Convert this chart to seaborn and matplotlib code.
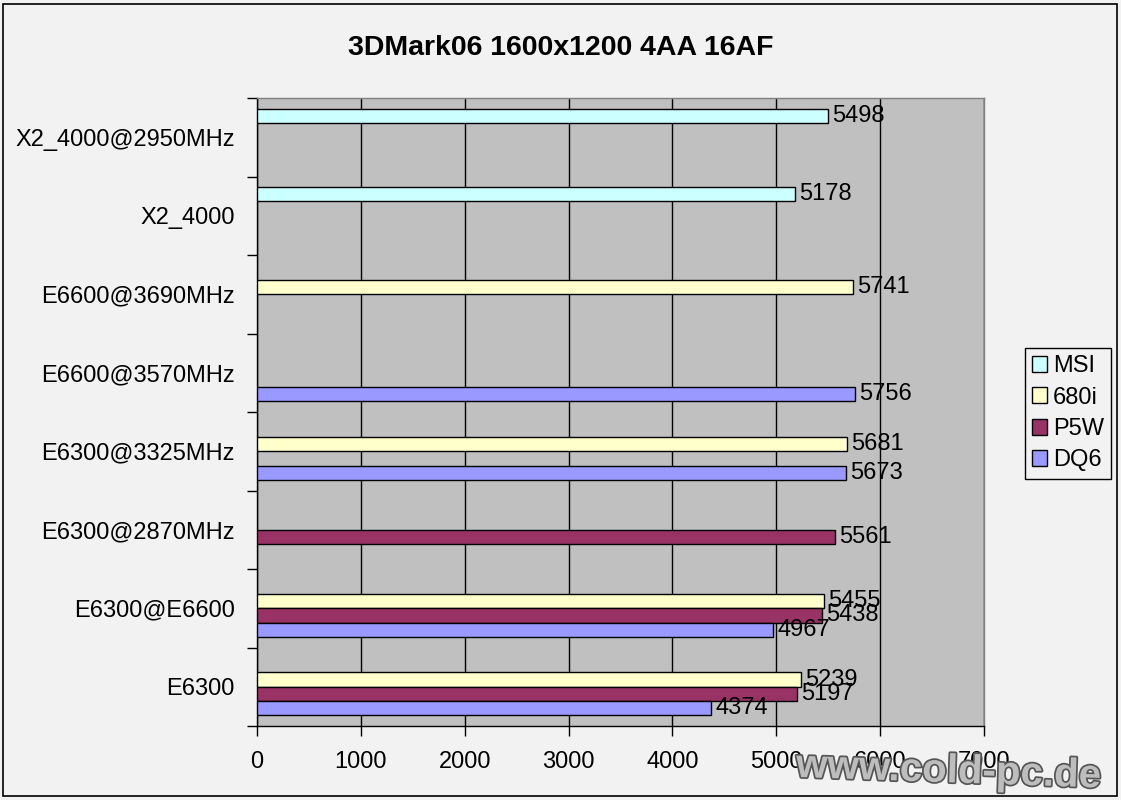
import numpy as np
import pandas as pd
import matplotlib
matplotlib.use("Agg")
import matplotlib.pyplot as plt
import matplotlib.patheffects as pe
import seaborn as sns

# Chart data (None = no result for that board)
cpus = [
    "X2_4000@2950MHz",
    "X2_4000",
    "E6600@3690MHz",
    "E6600@3570MHz",
    "E6300@3325MHz",
    "E6300@2870MHz",
    "E6300@E6600",
    "E6300",
]
boards = ["MSI", "680i", "P5W", "DQ6"]
msi = [5498, 5178, None, None, None, None, None, None]
nf680i = [None, None, 5741, None, 5681, None, 5455, 5239]
p5w = [None, None, None, None, None, 5561, 5438, 5197]
dq6 = [None, None, None, 5756, 5673, None, 4967, 4374]
colors = ["#CCFFFF", "#FFFFCC", "#993366", "#9999FF"]
x_ticks = [0, 1000, 2000, 3000, 4000, 5000, 6000, 7000]

# Build long-form table
rows = []
for board, vals in zip(boards, [msi, nf680i, p5w, dq6]):
    for cpu, v in zip(cpus, vals):
        if v is not None:
            rows.append({"cpu": cpu, "board": board, "score": v})
df = pd.DataFrame(rows)

sns.set_style("white")
plt.rcParams["font.family"] = ["Liberation Sans", "DejaVu Sans"]
plt.rcParams["text.color"] = "black"
plt.rcParams["xtick.color"] = "black"
plt.rcParams["ytick.color"] = "black"

fig = plt.figure(figsize=(11.21, 8.0), dpi=100)
fig.patch.set_facecolor("#F2F2F2")
ax = fig.add_axes([257 / 1121, 1 - 726 / 800, 727 / 1121, 628 / 800])
ax.set_facecolor("#C0C0C0")

sns.barplot(
    data=df, x="score", y="cpu", hue="board",
    order=cpus, hue_order=boards, palette=colors, saturation=1,
    orient="h", width=0.73, errorbar=None,
    edgecolor="black", linewidth=1, ax=ax, zorder=3,
)

# Value labels
for cont in ax.containers:
    ax.bar_label(cont, fmt="%d", padding=3, fontsize=17, color="black", zorder=5)

ax.set_xlim(0, 7000)
ax.set_xticks(x_ticks)
ax.set_ylim(7.5, -0.5)
ax.grid(axis="x", color="black", linewidth=1, zorder=1)
ax.set_axisbelow(True)
ax.set_xlabel("")
ax.set_ylabel("")

# y ticks at category boundaries, labels at centers
ax.set_yticks(np.arange(len(cpus)))
ax.set_yticklabels(cpus)
ax.set_yticks(np.arange(len(cpus) + 1) - 0.5, minor=True)
ax.tick_params(axis="y", which="major", length=0, pad=16, labelsize=17,
               labelcolor="black")
ax.tick_params(axis="y", which="minor", length=7, width=1, color="black", left=True)
ax.tick_params(axis="x", length=7, width=1, color="black", bottom=True,
               pad=11, labelsize=17, labelcolor="black")

for side in ["left", "bottom"]:
    ax.spines[side].set_color("black")
    ax.spines[side].set_linewidth(1)
for side in ["top", "right"]:
    ax.spines[side].set_visible(True)
    ax.spines[side].set_color("#808080")
    ax.spines[side].set_linewidth(1)

# Legend
handles, labels = ax.get_legend_handles_labels()
leg = ax.legend(
    handles, labels, loc="center left", bbox_to_anchor=(1.056, 0.498),
    fontsize=17, frameon=True, fancybox=False, edgecolor="black",
    facecolor="#F2F2F2", framealpha=1, handlelength=0.65, handleheight=0.65,
    handletextpad=0.25, labelspacing=0.4, borderpad=0.3, borderaxespad=0,
)
leg.get_frame().set_linewidth(1)
for t in leg.get_texts():
    t.set_color("black")

fig.text(0.5, 0.94, "3DMark06 1600x1200 4AA 16AF", ha="center", va="center",
         fontsize=20.5, fontweight="bold", color="black")

# Watermark
fig.text(0.846, 0.036, "www.cold-pc.de", ha="center", va="center",
         fontsize=29, fontweight="bold", color="#BDBDBD", rotation=-2,
         path_effects=[pe.withStroke(linewidth=2.5, foreground="#555555")],
         zorder=10)

# Outer chart border
fig.add_artist(plt.Rectangle((3 / 1121, 4 / 800), 1114 / 1121, 792 / 800,
                             transform=fig.transFigure, fill=False,
                             edgecolor="black", linewidth=1.2))

fig.savefig("out.png", dpi=100, facecolor=fig.get_facecolor())
